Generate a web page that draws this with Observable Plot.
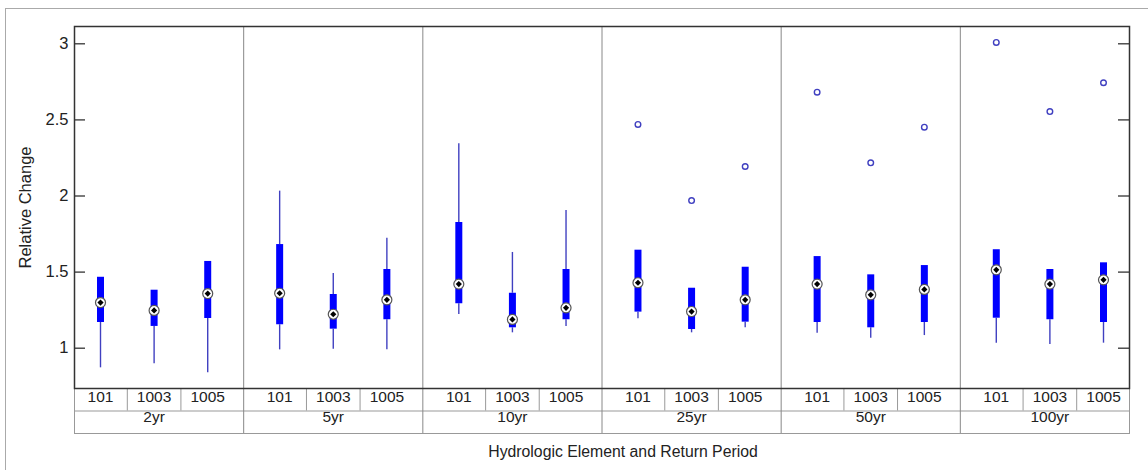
<!DOCTYPE html>
<html>
<head>
<meta charset="utf-8">
<script src="https://cdn.jsdelivr.net/npm/d3@7"></script>
<script src="https://cdn.jsdelivr.net/npm/@observablehq/plot@0.6"></script>
<style>
  html, body { margin: 0; padding: 0; background: #fff; overflow: hidden; }
  #chart svg { display: block; overflow: visible; }
</style>
</head>
<body>
<div id="chart"></div>
<script>
// ---- Data ----
const groups = ["2yr", "5yr", "10yr", "25yr", "50yr", "100yr"];
const elements = ["101", "1003", "1005"];
const yTicks = [1, 1.5, 2, 2.5, 3];

// one entry per box, ordered group by group, element by element
const lowerWhisker = [0.871, 0.897, 0.838,  0.989, 0.993, 0.989,  1.221, 1.101, 1.143,  1.193, 1.101, 1.134,  1.099, 1.066, 1.083,  1.033, 1.024, 1.033];
const q1Values     = [1.169, 1.143, 1.195,  1.154, 1.125, 1.187,  1.292, 1.134, 1.187,  1.237, 1.123, 1.171,  1.169, 1.134, 1.169,  1.197, 1.187, 1.169];
const medianValues = [1.300, 1.248, 1.359,  1.361, 1.223, 1.318,  1.421, 1.189, 1.265,  1.430, 1.241, 1.318,  1.421, 1.351, 1.386,  1.515, 1.421, 1.449];
const q3Values     = [1.466, 1.381, 1.570,  1.681, 1.353, 1.517,  1.826, 1.361, 1.517,  1.644, 1.394, 1.532,  1.602, 1.482, 1.543,  1.647, 1.517, 1.561];
const upperWhisker = [1.466, 1.381, 1.570,  2.032, 1.491, 1.723,  2.343, 1.629, 1.905,  1.644, 1.394, 1.532,  1.602, 1.482, 1.543,  1.647, 1.517, 1.561];

const outlierGroup   = ["25yr", "25yr", "25yr", "50yr", "50yr", "50yr", "100yr", "100yr", "100yr"];
const outlierElement = ["101", "1003", "1005", "101", "1003", "1005", "101", "1003", "1005"];
const outlierValue   = [2.470, 1.970, 2.194, 2.682, 2.218, 2.452, 3.009, 2.555, 2.744];

// ---- Layout helpers ----
const groupStep = 3.342;               // distance between groups in box units
const pos = (g, e) => groups.indexOf(g) * groupStep + elements.indexOf(e);

const boxes = [];
groups.forEach((g, gi) => elements.forEach((e, ei) => {
  const i = gi * elements.length + ei;
  boxes.push({group: g, element: e, x: pos(g, e),
    lo: lowerWhisker[i], q1: q1Values[i], med: medianValues[i], q3: q3Values[i], hi: upperWhisker[i]});
}));
const outliers = outlierValue.map((v, i) => ({x: pos(outlierGroup[i], outlierElement[i]), y: v}));
const groupCenters = groups.map((g, gi) => ({group: g, x: gi * groupStep + 1}));
const groupSeps = groups.slice(1).map((g, gi) => (gi + 1) * groupStep - (groupStep - 2) / 2);
const cellSeps = [];
groups.forEach((g, gi) => { cellSeps.push(gi * groupStep + 0.5, gi * groupStep + 1.5); });

const W = 1148, H = 470;
const mL = 74, mR = 19, mT = 26, mB = 82;
const frameW = W - mL - mR;
const font = "Liberation Sans, Arial, sans-serif";
const textColor = "#222";
const whiskerColor = "#4040c0";

const chart = Plot.plot({
  width: W, height: H,
  marginLeft: mL, marginRight: mR, marginTop: mT, marginBottom: mB,
  style: {fontFamily: font, fontSize: "16px", color: textColor, background: "white"},
  x: {domain: [-0.485, 5 * groupStep + 2.485], axis: null},
  y: {domain: [0.7352, 3.1137]},
  marks: [
    // outer figure frame (only top/left visible)
    Plot.frame({stroke: "#aaa", insetLeft: -(mL - 5), insetTop: -(mT - 8), insetRight: -(mR + 60), insetBottom: -(mB + 60)}),
    // label table
    Plot.frame({stroke: "#999", insetBottom: -45}),
    Plot.frame({stroke: "#999", insetBottom: -22.5}),
    Plot.ruleX(cellSeps, {x: d => d, stroke: "#999", insetTop: H - mT - mB, insetBottom: -22.5}),
    Plot.ruleX(groupSeps, {x: d => d, stroke: "#888", insetBottom: -45}),
    Plot.text(boxes, {x: "x", text: "element", frameAnchor: "bottom", dy: 13, fontSize: 15.5, fill: textColor}),
    Plot.text(groupCenters, {x: "x", text: "group", frameAnchor: "bottom", dy: 33, fontSize: 15.5, fill: textColor}),
    Plot.text(["Hydrologic Element and Return Period"], {frameAnchor: "bottom", dy: 68.5, dx: 21, fontSize: 15.8, fill: textColor}),
    Plot.text(["Relative Change"], {frameAnchor: "left", textAnchor: "middle", dx: -49, rotate: -90, fontSize: 16.5, fill: textColor}),
    // y axis
    Plot.axisY({ticks: yTicks, tickSize: 0, tickPadding: 6, tickFormat: d => String(d), label: null, fontSize: 16.5, fill: textColor}),
    Plot.ruleY(yTicks, {y: d => d, stroke: "#333", strokeWidth: 1.3, insetRight: frameW - 11}),
    Plot.ruleY(yTicks, {y: d => d, stroke: "#333", strokeWidth: 1.3, insetLeft: frameW - 11}),
    // boxes
    Plot.ruleX(boxes, {x: "x", y1: "lo", y2: "q1", stroke: whiskerColor, strokeWidth: 1.4}),
    Plot.ruleX(boxes, {x: "x", y1: "q3", y2: "hi", stroke: whiskerColor, strokeWidth: 1.4}),
    Plot.ruleX(boxes, {x: "x", y1: "q1", y2: "q3", stroke: "#0000ff", strokeWidth: 7}),
    Plot.dot(boxes, {x: "x", y: "med", r: 5, fill: "white", stroke: "#555", strokeWidth: 1.2}),
    Plot.dot(boxes, {x: "x", y: "med", r: 2.8, symbol: "diamond2", fill: "black", stroke: "none"}),
    Plot.dot(outliers, {x: "x", y: "y", r: 2.8, fill: "none", stroke: whiskerColor, strokeWidth: 1.4}),
    // plot area border
    Plot.frame({stroke: "#333", strokeWidth: 1.5})
  ]
});
document.getElementById("chart").appendChild(chart);
</script>
</body>
</html>
